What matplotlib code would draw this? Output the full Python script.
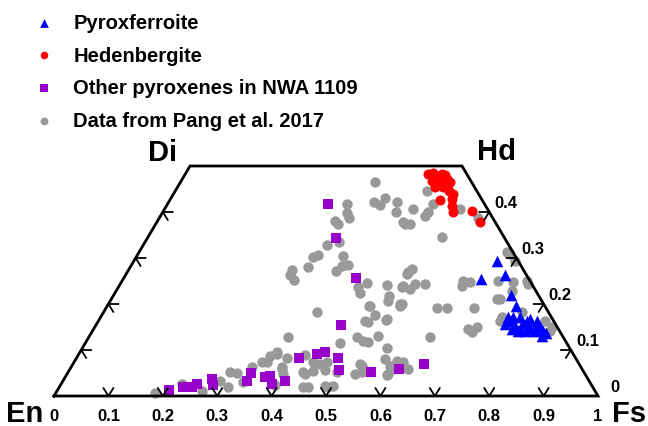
import numpy as np
import matplotlib
matplotlib.use('Agg')
import matplotlib.pyplot as plt

plt.rcParams['font.family'] = ['Liberation Sans', 'DejaVu Sans']
plt.rcParams['font.weight'] = 'bold'

# compositions as fractions (Fs, Wo); En = 1 - Fs - Wo
pxf_fs = [0.668, 0.698, 0.658, 0.730, 0.751, 0.751, 0.757, 0.758, 0.771, 0.771,
          0.783, 0.796, 0.792, 0.807, 0.810, 0.818, 0.829, 0.835, 0.832, 0.769,
          0.783, 0.796, 0.802, 0.814, 0.748, 0.788, 0.784]
pxf_wo = [0.293, 0.263, 0.254, 0.220, 0.196, 0.157, 0.163, 0.172, 0.172, 0.152,
          0.159, 0.150, 0.167, 0.163, 0.152, 0.150, 0.141, 0.137, 0.130, 0.146,
          0.141, 0.141, 0.146, 0.141, 0.172, 0.163, 0.146]

hd_fs = [0.446, 0.455, 0.465, 0.472, 0.479, 0.462, 0.472, 0.476, 0.486, 0.496,
         0.473, 0.488, 0.494, 0.503, 0.514, 0.496, 0.518, 0.525, 0.533, 0.567, 0.594]
hd_wo = [0.483, 0.485, 0.478, 0.483, 0.480, 0.467, 0.465, 0.467, 0.472, 0.465,
         0.454, 0.454, 0.461, 0.446, 0.439, 0.426, 0.428, 0.413, 0.400, 0.402, 0.378]

px_fs = [0.205, 0.227, 0.244, 0.250, 0.272, 0.280, 0.338, 0.337, 0.367, 0.375,
         0.388, 0.408, 0.409, 0.438, 0.450, 0.481, 0.495, 0.450, 0.557, 0.605,
         0.645, 0.295, 0.347, 0.427]
px_wo = [0.013, 0.020, 0.020, 0.026, 0.037, 0.024, 0.033, 0.050, 0.041, 0.043,
         0.026, 0.033, 0.083, 0.091, 0.096, 0.083, 0.057, 0.154, 0.052, 0.059,
         0.070, 0.417, 0.343, 0.257]

pang_fs = [0.182, 0.222, 0.267, 0.289, 0.310, 0.297, 0.311, 0.332, 0.333, 0.345,
           0.354, 0.365, 0.366, 0.387, 0.390, 0.397, 0.448, 0.457, 0.432, 0.439,
           0.449, 0.465, 0.494, 0.502, 0.494, 0.468, 0.493, 0.519, 0.490, 0.528,
           0.560, 0.568, 0.585, 0.590, 0.527, 0.540, 0.531, 0.592, 0.604, 0.621,
           0.627, 0.362, 0.417, 0.454, 0.470, 0.437, 0.388, 0.529, 0.534, 0.594,
           0.589, 0.394, 0.487, 0.481, 0.510, 0.536, 0.392, 0.497, 0.502, 0.528,
           0.508, 0.522, 0.540, 0.608, 0.627, 0.676, 0.688, 0.702, 0.699, 0.714,
           0.738, 0.737, 0.769, 0.841, 0.821, 0.840, 0.627, 0.641, 0.691, 0.709,
           0.684, 0.701, 0.750, 0.728, 0.540, 0.358, 0.330, 0.377, 0.393, 0.392,
           0.419, 0.429, 0.458, 0.326, 0.335, 0.340, 0.349, 0.338, 0.357, 0.332,
           0.325, 0.327, 0.300, 0.303, 0.315, 0.379, 0.388, 0.398, 0.382, 0.441,
           0.450, 0.452, 0.492, 0.521, 0.507, 0.538, 0.483, 0.516, 0.463, 0.488,
           0.487, 0.486, 0.456, 0.452, 0.467, 0.543, 0.586, 0.676, 0.520, 0.516,
           0.542, 0.560, 0.630, 0.720, 0.744, 0.538, 0.355]
pang_wo = [0.007, 0.026, 0.011, 0.033, 0.020, 0.052, 0.050, 0.030, 0.063, 0.074,
           0.087, 0.091, 0.128, 0.083, 0.059, 0.048, 0.020, 0.020, 0.052, 0.074,
           0.054, 0.074, 0.020, 0.022, 0.052, 0.115, 0.128, 0.117, 0.163, 0.167,
           0.104, 0.080, 0.065, 0.048, 0.070, 0.052, 0.130, 0.076, 0.074, 0.059,
           0.128, 0.096, 0.089, 0.070, 0.057, 0.048, 0.063, 0.048, 0.065, 0.059,
           0.046, 0.024, 0.022, 0.196, 0.207, 0.200, 0.183, 0.161, 0.176, 0.165,
           0.120, 0.239, 0.200, 0.191, 0.191, 0.191, 0.146, 0.150, 0.139, 0.211,
           0.163, 0.172, 0.183, 0.141, 0.163, 0.150, 0.250, 0.248, 0.250, 0.211,
           0.309, 0.293, 0.243, 0.228, 0.346, 0.465, 0.417, 0.422, 0.430, 0.415,
           0.422, 0.400, 0.374, 0.380, 0.374, 0.398, 0.387, 0.328, 0.335, 0.307,
           0.302, 0.280, 0.274, 0.263, 0.252, 0.304, 0.283, 0.285, 0.272, 0.237,
           0.224, 0.246, 0.241, 0.237, 0.217, 0.196, 0.196, 0.270, 0.446, 0.417,
           0.400, 0.391, 0.407, 0.378, 0.374, 0.407, 0.387, 0.313, 0.276, 0.265,
           0.243, 0.243, 0.239, 0.248, 0.250, 0.233, 0.074]

tick_vals = [0.1, 0.2, 0.3, 0.4, 0.5, 0.6, 0.7, 0.8, 0.9]
base_labels = ['0', '0.1', '0.2', '0.3', '0.4', '0.5', '0.6', '0.7', '0.8', '0.9', '1']
wo_ticks = [0.1, 0.2, 0.3, 0.4]
wo_labels = ['0', '0.1', '0.2', '0.3', '0.4']


def to_xy(fs, wo):
    fs = np.asarray(fs, dtype=float)
    wo = np.asarray(wo, dtype=float)
    return fs + wo / 2, wo


fig = plt.figure(figsize=(6.48, 4.27), dpi=100)
ax = fig.add_axes([0, 0, 1, 1])
ax.set_xlim(-0.0993, 1.0919)
ax.set_ylim(-0.0652, 0.863)
ax.axis('off')

# quadrilateral outline En - Fs - Hd - Di
ox, oy = to_xy([0, 1, 0.5, 0, 0], [0, 0, 0.5, 0.5, 0])
ax.plot(ox, oy, color='black', lw=2.0, solid_joinstyle='miter', zorder=5)

# chevron ticks
h = 0.018
dx, dy = 0.009, 0.017
for v in tick_vals:
    ax.plot([v - dx, v, v + dx], [dy, 0, dy], color='black', lw=1.3, zorder=5)
for w in wo_ticks:
    x0 = w / 2
    ax.plot([x0 + h, x0, x0 + dx], [w, w, w - dy], color='black', lw=1.3, zorder=5)
    x1 = 1 - w / 2
    ax.plot([x1 - h, x1, x1 - dx], [w, w, w - dy], color='black', lw=1.3, zorder=5)

# tick labels
for i, lab in enumerate(base_labels):
    ax.annotate(lab, (i / 10, 0), xytext=(0, -14), textcoords='offset points',
                ha='center', va='center', fontsize=12, fontweight='bold')
for i, lab in enumerate(wo_labels):
    w = i / 10
    ax.annotate(lab, (1 - w / 2, w), xytext=(12, 6.5), textcoords='offset points',
                ha='center', va='center', fontsize=12, fontweight='bold')

# corner labels
ax.annotate('En', to_xy(0, 0), xytext=(-21, -12), textcoords='offset points',
            ha='center', va='center', fontsize=21, fontweight='bold')
ax.annotate('Fs', to_xy(1, 0), xytext=(22, -12), textcoords='offset points',
            ha='center', va='center', fontsize=21, fontweight='bold')
ax.annotate('Di', to_xy(0, 0.5), xytext=(-20, 10), textcoords='offset points',
            ha='center', va='center', fontsize=21, fontweight='bold')
ax.annotate('Hd', to_xy(0.5, 0.5), xytext=(25, 11), textcoords='offset points',
            ha='center', va='center', fontsize=21, fontweight='bold')

# data
gx, gy = to_xy(pang_fs, pang_wo)
g = ax.scatter(gx, gy, s=56, marker='o', color='#999999', linewidths=0, zorder=2,
               label='Data from Pang et al. 2017')
px, py = to_xy(px_fs, px_wo)
p = ax.scatter(px, py, s=58, marker='s', color='#9900CC', linewidths=0, zorder=3,
               label='Other pyroxenes in NWA 1109')
hx, hy = to_xy(hd_fs, hd_wo)
r = ax.scatter(hx, hy, s=52, marker='o', color='#FF0000', linewidths=0, zorder=4,
               label='Hedenbergite')
bx, by = to_xy(pxf_fs, pxf_wo)
b = ax.scatter(bx, by, s=70, marker='^', color='#0000FF', linewidths=0, zorder=4,
               label='Pyroxferroite')

leg = ax.legend(handles=[b, r, p, g], loc='upper left', bbox_to_anchor=(34 / 648, 1 - 14 / 427),
                frameon=False, borderpad=0, borderaxespad=0, handlelength=1.0,
                handletextpad=0.95, labelspacing=0.68,
                prop={'weight': 'bold', 'size': 14.5}, markerscale=0.75)

fig.savefig('out.png', dpi=100)
